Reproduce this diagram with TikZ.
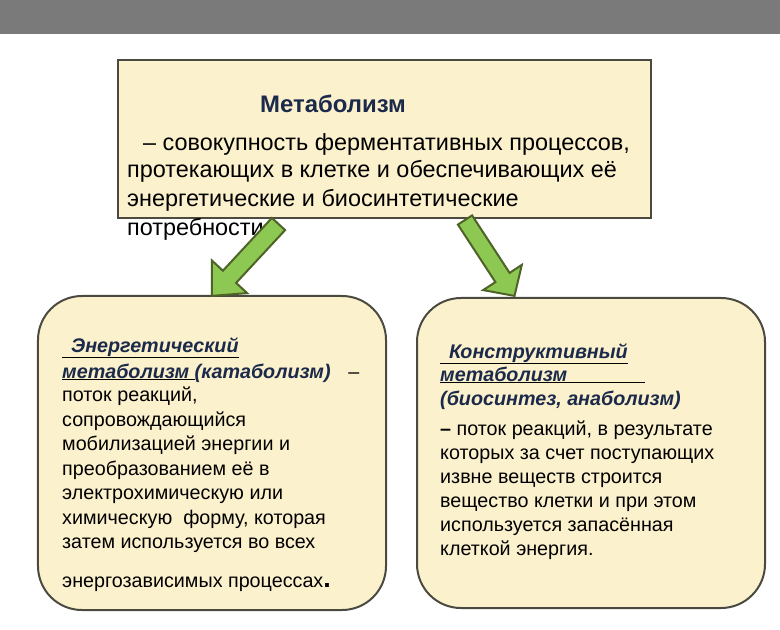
\documentclass[tikz,border=0pt]{standalone}
\usepackage{fontspec}
\setmainfont{Liberation Sans}
\definecolor{barc}{HTML}{7A7A7A}
\definecolor{cream}{HTML}{FCF1CD}
\definecolor{edge}{HTML}{4A4A40}
\definecolor{navy}{HTML}{1B2A4A}
\definecolor{agreen}{HTML}{8DC853}
\definecolor{aedge}{HTML}{4F6228}
\tikzset{
  panel/.style={draw=edge, line width=2bp, fill=cream, inner sep=0},
  bigtxt/.style={anchor=base west, inner sep=0, font=\fontsize{23.5}{28}\selectfont},
  txt/.style={anchor=base west, inner sep=0, font=\fontsize{19.8}{24}\selectfont},
  blockarrow/.style={fill=agreen, draw=aedge, line width=2bp, line join=miter}
}
\begin{document}
\begin{tikzpicture}[x=1bp,y=-1bp]
\useasboundingbox (0,0) rectangle (780,630);
\fill[white] (0,0) rectangle (780,630);
\fill[barc] (0,0) rectangle (780,34);

% top box
\node[panel, minimum width=533bp, minimum height=158bp] (top) at (384.5,139) {};
\node[bigtxt, text=navy, font=\fontsize{24}{28}\selectfont\bfseries] (t1) at (260,113) {Метаболизм};
\node[bigtxt] (t2) at (143,151) {– совокупность ферментативных процессов,};
\node[bigtxt] (t3) at (127,178) {протекающих в клетке и обеспечивающих её};
\node[bigtxt] (t4) at (127,207) {энергетические и биосинтетические};
\node[bigtxt] (t5) at (127,235) {потребности};

% lower boxes
\node[panel, rounded corners=44bp, minimum width=348bp, minimum height=314bp] (cat) at (212,453) {};
\node[panel, rounded corners=44bp, minimum width=348bp, minimum height=310bp] (ana) at (591,453) {};

% arrows
\draw[blockarrow] (271.9,217.9) -- (222.9,270.7) -- (211.9,260.5) -- (211.8,295.9)
  -- (247.1,293.1) -- (236.1,282.9) -- (285.1,230.1) -- cycle;
\draw[blockarrow] (472.1,215.4) -- (509.6,272.9) -- (521.8,264.9) -- (514.5,295.9)
  -- (483.2,290.1) -- (495.4,282.1) -- (457.9,224.6) -- cycle;

% left box text
\node[txt] (l1) at (62,352) {\underline{\hspace{0.45em}{\color{navy}\bfseries\itshape Энергетический}}};
\node[txt] (l2) at (62,378) {\underline{{\color{navy}\bfseries\itshape метаболизм }}{\color{navy}\bfseries\itshape (катаболизм)}\hspace{0.9em}–};
\node[txt] (l3) at (62,401) {поток реакций,};
\node[txt] (l4) at (62,426) {сопровождающийся};
\node[txt] (l5) at (62,450) {мобилизацией энергии и};
\node[txt] (l6) at (62,475) {преобразованием её в};
\node[txt] (l7) at (62,499) {электрохимическую или};
\node[txt] (l8) at (62,524) {химическую\ \ форму, которая};
\node[txt] (l9) at (62,548) {затем используется во всех};
\node[txt] (l10) at (62,587) {энергозависимых процессах{\fontsize{27}{27}\selectfont\bfseries .}};

% right box text
\node[txt] (r1) at (440,358) {\underline{\hspace{0.45em}{\color{navy}\bfseries\itshape Конструктивный}}};
\node[txt] (r2) at (440,381) {\underline{{\color{navy}\bfseries\itshape метаболизм}\hspace{78bp}}};
\node[txt] (r3) at (440,405) {{\color{navy}\bfseries\itshape (биосинтез, анаболизм)}};
\node[txt] (r4) at (440,435) {{\bfseries –} поток реакций, в результате};
\node[txt] (r5) at (440,459) {которых за счет поступающих};
\node[txt] (r6) at (440,483) {извне веществ строится};
\node[txt] (r7) at (440,507) {вещество клетки и при этом};
\node[txt] (r8) at (440,531) {используется запасённая};
\node[txt] (r9) at (440,555) {клеткой энергия.};
\end{tikzpicture}
\end{document}
